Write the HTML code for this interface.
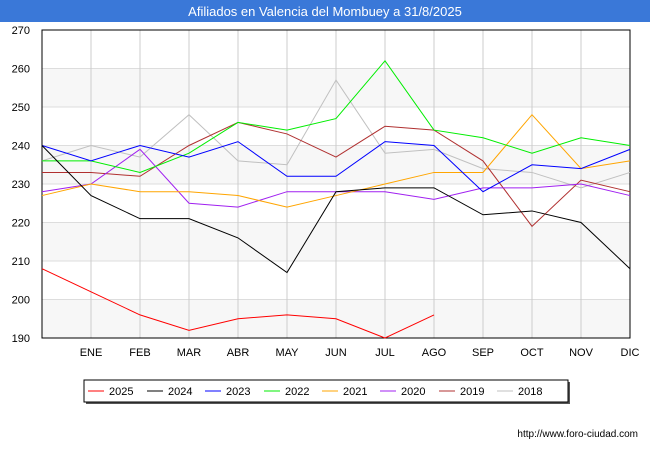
<!DOCTYPE html>
<html><head><meta charset="utf-8"><style>
body{margin:0;background:#fff;font-family:"Liberation Sans",sans-serif}
</style></head><body>
<svg width="650" height="450" xmlns="http://www.w3.org/2000/svg" font-family="Liberation Sans, sans-serif">
<rect x="0" y="0" width="650" height="22" fill="#3a78d8"/>
<text x="325" y="16" text-anchor="middle" fill="#fff" font-size="13">Afiliados en Valencia del Mombuey a 31/8/2025</text>
<g id="plot"></g>
<text x="638" y="437" text-anchor="end" font-size="10" fill="#000">http://www.foro-ciudad.com</text>
</svg>
<script>
const months=["","ENE","FEB","MAR","ABR","MAY","JUN","JUL","AGO","SEP","OCT","NOV","DIC"];
const yTicks=[190,200,210,220,230,240,250,260,270];
const seriesNames=["2025","2024","2023","2022","2021","2020","2019","2018"];
const colors=["#ff0000","#000000","#0000ff","#00ee00","#ffa500","#a020f0","#b03030","#c0c0c0"];
const s2025=[208,202,196,192,195,196,195,190,196];
const s2024=[240,227,221,221,216,207,228,229,229,222,223,220,208];
const s2023=[240,236,240,237,241,232,232,241,240,228,235,234,239];
const s2022=[236,236,233,238,246,244,247,262,244,242,238,242,240];
const s2021=[227,230,228,228,227,224,227,230,233,233,248,234,236];
const s2020=[228,230,239,225,224,228,228,228,226,229,229,230,227];
const s2019=[233,233,232,240,246,243,237,245,244,236,219,231,228];
const s2018=[236,240,237,248,236,235,257,238,239,234,233,229,233];
const allSeries=[s2025,s2024,s2023,s2022,s2021,s2020,s2019,s2018];
const NS="http://www.w3.org/2000/svg";
const L=42,R=630,T=30,B=338;
const x=i=>L+(R-L)*i/12;
const y=v=>B-(v-190)*(B-T)/80;
const g=document.getElementById('plot');
function mk(t,a){const e=document.createElementNS(NS,t);for(const k in a)e.setAttribute(k,a[k]);g.appendChild(e);return e;}
for(let i=0;i<yTicks.length-1;i++){
 if(i%2===0){const b=mk('rect',{x:L,y:y(yTicks[i+1]),width:R-L,height:y(yTicks[i])-y(yTicks[i+1]),fill:'#f7f7f7'});
 
 }
}
yTicks.forEach(v=>{
 const l=mk('line',{x1:L,x2:R,y1:y(v),y2:y(v),stroke:'#ddd'});
 
 
 const t=mk('text',{x:L-12,y:y(v)+4,'text-anchor':'end','font-size':11});t.textContent=v;
 
 
});
months.forEach((m,i)=>{
 if(i===0)return;
 const l=mk('line',{x1:x(i),x2:x(i),y1:T,y2:B,stroke:'#ccc'});
 
 
 const t=mk('text',{x:x(i),y:B+18,'text-anchor':'middle','font-size':11});t.textContent=m;
 
 
});
const fr=mk('rect',{x:L,y:T,width:R-L,height:B-T,fill:'none',stroke:'#000'});


for(let k=allSeries.length-1;k>=0;k--){
 const p=mk('polyline',{points:allSeries[k].map((v,i)=>x(i)+','+y(v)).join(' '),fill:'none',stroke:colors[k],'stroke-width':1});
 
 
}
const lg=mk('rect',{x:84,y:380,width:484,height:22,fill:'#fff',stroke:'#000'});
mk('rect',{x:86,y:382,width:484,height:22,fill:'#555'}).parentNode.insertBefore(g.lastChild,lg);


const lx=[88,147,205,264,322,380,439,497];
seriesNames.forEach((n,k)=>{
 const l=mk('line',{x1:lx[k],x2:lx[k]+16,y1:391,y2:391,stroke:colors[k],'stroke-width':1});
 
 
 const t=mk('text',{x:lx[k]+21,y:395,'font-size':11});t.textContent=n;
 
 
});
</script>
</body></html>
